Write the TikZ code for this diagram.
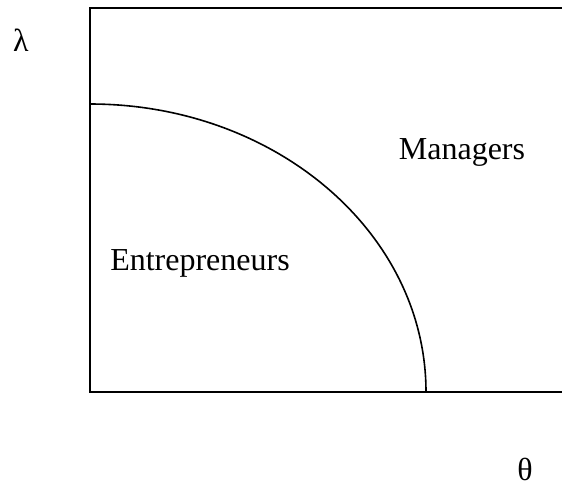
\documentclass[tikz,border=0pt]{standalone}
\usepackage{fontspec}
\setmainfont{Liberation Serif}
\usepackage{tikz}

\begin{document}
\begin{tikzpicture}[x=0.5pt,y=-0.5pt,
	lbl/.style={font=\fontsize{16}{18}\selectfont, inner sep=0pt},
	ax/.style={line width=1pt}]
\useasboundingbox (0,0) rectangle (562,489);
% corners of the region
\coordinate (o) at (90,392);
\coordinate (tl) at (90,8);
\coordinate (tr) at (562,8);
\coordinate (br) at (562,392);
\draw[ax] (tr) -- (tl) -- (o) -- (br);
% boundary between the two groups
\coordinate (k1) at (90,104);
\coordinate (k2) at (426,392);
\draw[line width=0.8pt] (k1) arc[start angle=90, end angle=0, x radius=336, y radius=-288];
\node[lbl] (lam) at (21,40) {λ};
\node[lbl] (th) at (525,469) {θ};
\node[lbl] (man) at (462,152) {Managers};
\node[lbl] (ent) at (200,263) {Entrepreneurs};
\end{tikzpicture}
\end{document}
